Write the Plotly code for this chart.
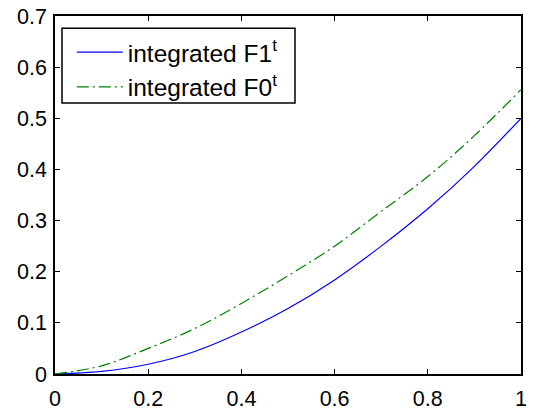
import plotly.graph_objects as go

x_vals = [0.0, 0.1, 0.2, 0.3, 0.4, 0.5, 0.6, 0.7, 0.8, 0.9, 1.0]
f1_vals = [0.0, 0.005, 0.019, 0.044, 0.082, 0.128, 0.184, 0.250, 0.323, 0.406, 0.500]
f0_vals = [0.0, 0.016, 0.050, 0.089, 0.138, 0.192, 0.250, 0.318, 0.386, 0.466, 0.556]
series_names = ["integrated F1<sup>t</sup>", "integrated F0<sup>t</sup>"]

FONT = "Liberation Sans, Arial, sans-serif"

fig = go.Figure()
fig.add_trace(go.Scatter(x=x_vals, y=f1_vals, mode="lines", name=series_names[0],
                         line=dict(color="rgb(0,0,255)", width=1.2, shape="spline")))
fig.add_trace(go.Scatter(x=x_vals, y=f0_vals, mode="lines", name=series_names[1],
                         line=dict(color="rgb(0,128,0)", width=1.2, shape="spline",
                                   dash="12px,4px,2px,4px")))

axis_common = dict(showgrid=False, zeroline=False, showline=True, linecolor="black",
                   linewidth=1.5, mirror="ticks", ticks="inside", ticklen=5,
                   tickcolor="black", tickwidth=1, automargin=False,
                   tickfont=dict(family=FONT, size=21.5, color="black"))

fig.update_xaxes(range=[0, 1], tickvals=[0, 0.2, 0.4, 0.6, 0.8, 1],
                 ticktext=["0", "0.2", "0.4", "0.6", "0.8", "1"],
                 ticklabelstandoff=4, **axis_common)
fig.update_yaxes(range=[0, 0.7], tickvals=[0, 0.1, 0.2, 0.3, 0.4, 0.5, 0.6, 0.7],
                 ticktext=["0", "0.1", "0.2", "0.3", "0.4", "0.5", "0.6", "0.7"],
                 ticklabelstandoff=2, **axis_common)

# legend frame (layout element)
fig.add_shape(type="rect", xref="paper", yref="paper",
              x0=0.015, x1=0.515, y0=0.757, y1=0.966,
              line=dict(color="black", width=1.5), fillcolor="white", layer="above")

fig.update_layout(
    width=536, height=414,
    margin=dict(l=55, r=15, t=16, b=40),
    paper_bgcolor="white", plot_bgcolor="white",
    showlegend=True,
    legend=dict(x=0.036, y=0.962, xanchor="left", yanchor="top",
                bgcolor="rgba(0,0,0,0)", borderwidth=0,
                itemwidth=46,
                font=dict(family=FONT, size=24.5, color="black")),
)

fig.write_html("out.html", config={"displayModeBar": False},
               post_script="document.body.style.margin='0';")
